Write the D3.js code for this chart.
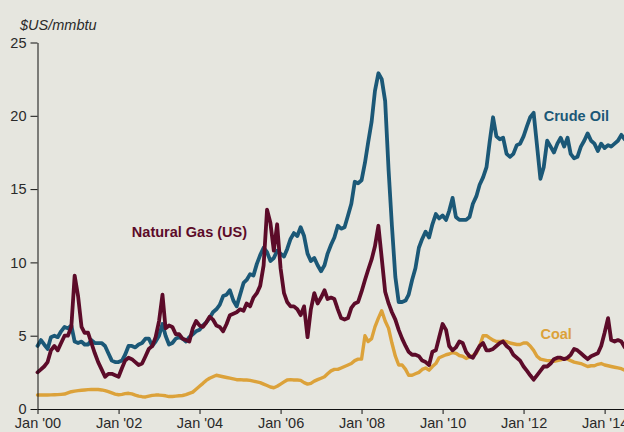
<!DOCTYPE html>
<html>
<head>
<meta charset="utf-8">
<script src="https://cdn.jsdelivr.net/npm/d3@7"></script>
<style>
  body { margin: 0; background: #e6e6df; }
  svg { display: block; }
  .axis text { font-family: "Liberation Sans", Arial, sans-serif; font-size: 14.5px; fill: #2a2a2a; }
  .axis path, .axis line { stroke: #111; }
  .series-label { font-family: "Liberation Sans", Arial, sans-serif; font-size: 14.5px; font-weight: bold; }
</style>
</head>
<body>
<svg id="chart"></svg>
<script>
// monthly values, Jan 2000 .. Aug 2014, $US/mmbtu
var crudeOil = [
  4.3, 4.7, 4.4, 4.1, 4.9, 5.0, 4.9, 5.3, 5.6, 5.5, 5.7, 4.6,
  4.5, 4.6, 4.4, 4.4, 4.7, 4.5, 4.5, 4.5, 4.3, 3.8, 3.3, 3.2,
  3.2, 3.3, 3.7, 4.3, 4.3, 4.2, 4.4, 4.5, 4.8, 4.8, 4.3, 4.6,
  5.0, 5.8, 5.0, 4.4, 4.5, 4.8, 4.9, 4.8, 4.6, 4.9, 5.1, 5.3,
  5.4, 5.7, 5.9, 6.2, 6.6, 6.8, 7.1, 7.7, 7.8, 8.1, 7.4, 7.0,
  7.8, 8.6, 8.8, 9.2, 9.1, 9.9, 10.5, 11.0, 10.7, 10.1, 10.3, 10.8,
  10.6, 10.4, 10.9, 11.6, 12.0, 11.8, 12.4, 11.8, 10.6, 10.1, 10.3, 9.8,
  9.4, 9.8, 10.6, 11.2, 11.7, 12.5, 12.3, 12.4, 13.2, 14.0, 15.5, 15.4,
  15.6, 16.8, 18.2, 19.6, 21.7, 22.9, 22.5, 21.0, 16.3, 12.5, 9.0, 7.3,
  7.3, 7.4, 7.8, 8.8, 9.6, 11.0, 11.6, 12.1, 11.7, 12.6, 13.3, 13.0,
  13.2, 12.9, 13.5, 14.4, 13.1, 12.9, 12.9, 12.9, 13.1, 14.0, 14.5, 15.3,
  15.8, 16.5, 18.2, 19.9, 18.6, 18.4, 18.5, 17.4, 17.2, 17.4, 18.0, 18.1,
  18.6, 19.3, 19.9, 20.2, 18.0, 15.7, 16.5, 18.3, 17.9, 17.5, 18.1, 18.5,
  17.9, 18.5, 17.4, 17.1, 17.2, 17.9, 18.3, 18.8, 18.3, 18.1, 17.6, 18.1,
  17.8, 18.0, 17.9, 18.1, 18.3, 18.7, 18.4, 18.2
];

var naturalGas = [
  2.5, 2.7, 2.9, 3.2, 4.0, 4.3, 4.0, 4.5, 5.0, 5.0, 5.6, 9.1,
  7.7, 5.6, 5.2, 5.2, 4.5, 3.8, 3.2, 2.7, 2.2, 2.4, 2.4, 2.3,
  2.2, 2.8, 3.3, 3.5, 3.4, 3.2, 3.0, 3.1, 3.6, 4.1, 4.3, 4.9,
  6.0, 7.8, 5.5, 5.7, 5.6, 5.1, 5.1, 4.8, 4.7, 4.6, 5.5, 6.0,
  5.7, 5.6, 5.9, 6.3, 6.1, 5.7, 5.6, 5.3, 5.8, 6.4, 6.5, 6.6,
  6.8, 6.7, 7.2, 7.0, 7.6, 7.9, 8.4, 9.8, 13.6, 12.7, 10.8, 12.6,
  9.6, 7.9, 7.3, 7.0, 7.0, 6.8, 6.4, 7.0, 4.9, 6.8, 7.9, 7.2,
  7.6, 8.1, 7.5, 7.6, 7.5, 6.8, 6.2, 6.1, 6.2, 6.9, 7.2, 7.3,
  8.0, 8.8, 9.5, 10.2, 11.1, 12.5, 10.3, 8.0, 7.2, 6.6, 6.1, 5.4,
  4.8, 4.3, 3.9, 3.7, 3.7, 3.6, 3.3, 3.2, 3.0, 3.9, 4.0, 4.9,
  5.8, 5.4, 4.3, 4.0, 4.2, 4.6, 4.5, 3.9, 3.6, 3.5, 3.9, 4.3,
  4.5, 4.0, 4.0, 4.1, 4.3, 4.5, 4.6, 4.3, 4.1, 3.7, 3.5, 3.3,
  2.9, 2.6, 2.3, 2.0, 2.3, 2.6, 2.9, 2.9, 3.1, 3.4, 3.5, 3.5,
  3.4, 3.5, 3.7, 4.1, 4.0, 3.8, 3.6, 3.4, 3.6, 3.7, 3.8, 4.3,
  5.2, 6.2, 4.7, 4.6, 4.7, 4.6, 4.2, 4.0
];

var coal = [
  0.95, 0.95, 0.95, 0.95, 0.96, 0.97, 0.98, 1.0, 1.02, 1.1, 1.18, 1.22,
  1.25, 1.28, 1.3, 1.32, 1.33, 1.33, 1.33, 1.3, 1.25, 1.18, 1.1, 1.02,
  0.97, 1.0, 1.05, 1.07, 1.03, 0.95, 0.88, 0.84, 0.82, 0.88, 0.93, 0.95,
  0.95, 0.93, 0.9, 0.85, 0.85, 0.88, 0.9, 0.92, 0.98, 1.07, 1.15, 1.35,
  1.55, 1.75, 1.95, 2.1, 2.2, 2.3, 2.25, 2.2, 2.15, 2.1, 2.05, 2.0,
  2.0, 1.98, 1.98, 1.95, 1.9, 1.85, 1.8, 1.7, 1.6, 1.5, 1.45, 1.55,
  1.7, 1.85, 1.98, 2.0, 1.98, 1.98, 1.95, 1.8, 1.7, 1.75, 1.9, 2.0,
  2.1, 2.2, 2.4, 2.6, 2.7, 2.7, 2.8, 2.9, 3.0, 3.1, 3.3, 3.4,
  3.4, 5.0, 4.6, 4.8, 5.6, 6.2, 6.7, 6.0, 5.5, 4.5, 3.6, 3.0,
  3.0, 2.7, 2.3, 2.3, 2.4, 2.5, 2.7, 2.8, 2.65, 2.9, 3.1, 3.5,
  3.6, 3.7, 3.75, 3.85, 3.8, 3.65, 3.6, 3.45, 3.55, 3.65, 3.8, 4.3,
  5.0, 5.0, 4.85, 4.7, 4.6, 4.6, 4.65, 4.6, 4.5, 4.45, 4.4, 4.4,
  4.5, 4.5, 4.3, 4.0, 3.6, 3.4, 3.35, 3.3, 3.3, 3.25, 3.3, 3.35,
  3.45, 3.4, 3.3, 3.2, 3.15, 3.1, 3.0, 2.9, 2.95, 2.95, 3.05, 3.1,
  3.0, 2.95, 2.9, 2.85, 2.8, 2.75, 2.65, 2.6
];

var yTicks = [0, 5, 10, 15, 20, 25];
var xTickYears = [2000, 2002, 2004, 2006, 2008, 2010, 2012, 2014];

var seriesNames = ["Coal", "Crude Oil", "Natural Gas (US)"];
var seriesColors = ["#dca23a", "#1b5877", "#5c0b29"];

// where each series name sits: [year, month, value]
var labelSpots = [[2012, 5, 5.1], [2012, 6.9, 20.0], [2002, 4, 12.1]];

var width = 624, height = 432;
var margin = {left: 37.5, top: 42.5, bottom: 23};
var pxPerYear = 40.5;

var x = d3.scaleTime()
  .domain([new Date(2000, 0, 1), new Date(2014, 7, 1)])
  .range([margin.left, margin.left + pxPerYear * (14 + 7 / 12)]);

var y = d3.scaleLinear()
  .domain([0, 25])
  .range([height - margin.bottom, margin.top]);

var svg = d3.select("#chart")
  .attr("width", width)
  .attr("height", height);

var toPoints = function(values) {
  return values.map(function(v, i) { return {date: new Date(2000, i, 1), value: v}; });
};

var line = d3.line()
  .x(function(d) { return x(d.date); })
  .y(function(d) { return y(d.value); });

var allSeries = [coal, crudeOil, naturalGas];

svg.append("g")
  .selectAll("path")
  .data(allSeries)
  .join("path")
  .attr("fill", "none")
  .attr("stroke", function(d, i) { return seriesColors[i]; })
  .attr("stroke-width", function(d, i) { return i === 0 ? 3.4 : 3.8; })
  .attr("stroke-linejoin", "round")
  .attr("stroke-linecap", "round")
  .attr("d", function(d) { return line(toPoints(d)); });

// axes
svg.append("g")
  .attr("class", "axis y-axis")
  .attr("transform", "translate(" + margin.left + ",0)")
  .call(d3.axisLeft(y).tickValues(yTicks).tickSize(7).tickPadding(4).tickSizeOuter(0));

svg.append("g")
  .attr("class", "axis x-axis")
  .attr("transform", "translate(0," + (height - margin.bottom) + ")")
  .call(d3.axisBottom(x)
    .tickValues(xTickYears.map(function(yr) { return new Date(yr, 0, 1); }))
    .tickSize(5)
    .tickPadding(4)
    .tickSizeOuter(0)
    .tickFormat(function(d) { return "Jan '" + d3.timeFormat("%y")(d); }));

// unit label
svg.append("text")
  .attr("x", 20)
  .attr("y", y(25) - 13)
  .attr("font-family", "Liberation Sans, Arial, sans-serif")
  .attr("font-size", "14.5px")
  .attr("font-style", "italic")
  .attr("fill", "#2a2a2a")
  .text("$US/mmbtu");

// series labels
svg.append("g")
  .selectAll("text")
  .data(seriesNames)
  .join("text")
  .attr("class", "series-label")
  .attr("x", function(d, i) { return x(new Date(labelSpots[i][0], labelSpots[i][1], 1)); })
  .attr("y", function(d, i) { return y(labelSpots[i][2]); })
  .attr("dy", "0.36em")
  .attr("fill", function(d, i) { return seriesColors[i]; })
  .text(function(d) { return d; });
</script>
</body>
</html>
